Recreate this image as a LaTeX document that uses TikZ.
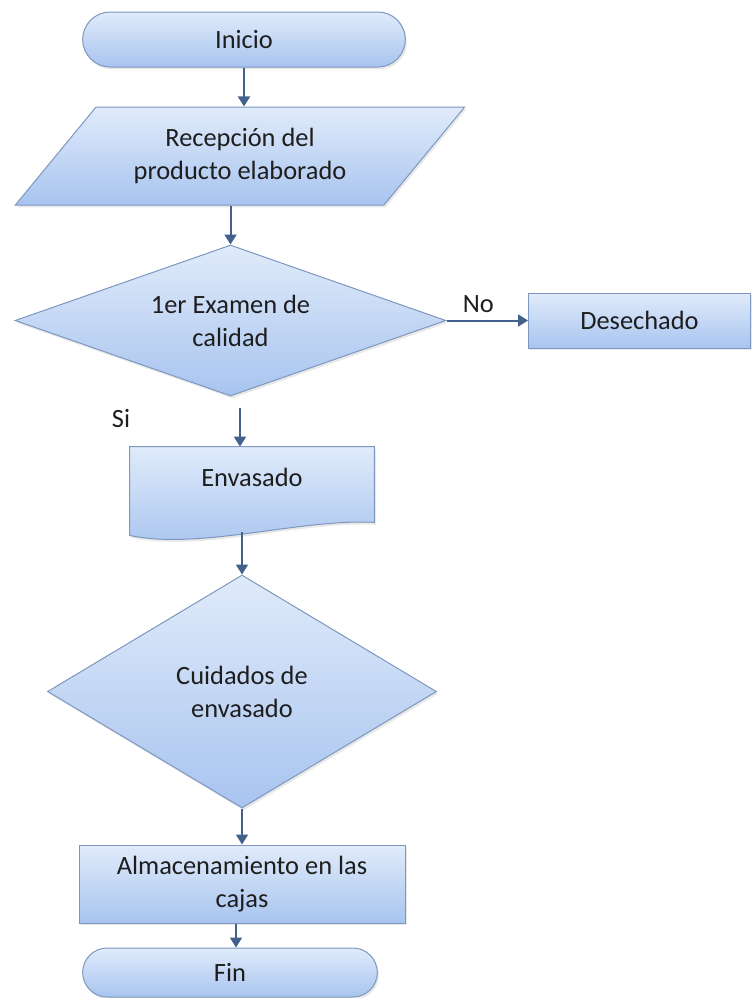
\documentclass[tikz,border=0pt]{standalone}
\usepackage{fontspec}
\setmainfont{Carlito}
\usetikzlibrary{
  calc,
  arrows.meta,
  positioning,
  shapes.geometric,
  shapes.misc,
  shadows
}
\definecolor{boxtop}{HTML}{E0EBFA}
\definecolor{boxbot}{HTML}{A8C4EF}
\definecolor{boxline}{HTML}{7D97BF}
\definecolor{arrowc}{HTML}{42628D}
\definecolor{txt}{HTML}{1E1E1E}

\begin{document}
\begin{tikzpicture}[
            node distance=80pt,
            font=\fontsize{13.2}{16.5}\selectfont,
            text=txt,
            % aspetto comune delle figure
            base/.style={draw=boxline, line width=0.5pt, top color=boxtop, bottom color=boxbot, drop shadow={opacity=0.18, shadow xshift=0.8pt, shadow yshift=-1.2pt}},
            terminal/.style={base, rounded rectangle, minimum width=168pt, minimum height=27.5pt, text centered},
            io/.style={base, trapezium, trapezium left angle=47.4, trapezium right angle=132.6, trapezium stretches=true, minimum width=225pt, minimum height=49pt, align=center},
            decision/.style={base, diamond, inner sep=2pt, align=center},
            process/.style={base, rectangle, align=center},
            docbox/.style={rectangle, minimum width=122pt, minimum height=37.5pt, text centered},
            arrow/.style={line width=1pt, draw=arrowc, -{Triangle[width=6pt,length=5pt]}}
        ]
        \useasboundingbox (0,0) rectangle (376pt,-499pt);

        % Nodi
        \node (inicio) [terminal] at (122pt,-19.75pt) {Inicio};
        \node (recep) [io, below of=inicio, xshift=-2pt, yshift=21.75pt] {Recepción del\\producto elaborado};
        \node (examen) [decision, aspect=2.85, minimum width=215.5pt, minimum height=75.5pt, below of=recep, xshift=-4.75pt, yshift=-2.25pt] {1er Examen de\\calidad};
        \node (desechado) [process, minimum width=111pt, minimum height=27.5pt, right of=examen, xshift=124.5pt] {Desechado};
        \node (si) [below of=examen, xshift=-54.75pt, yshift=31.25pt] {Si};

        % documento con bordo inferiore ondulato
        \node (envasado) [docbox, below of=examen, xshift=10.75pt, yshift=-2pt] {};
        \path [base] (envasado.north west) -- (envasado.north east) -- (envasado.south east)
            .. controls ($(envasado.south east)+(-37pt,2pt)$) and ($(envasado.south west)+(35pt,-14pt)$) .. ($(envasado.south west)+(0,-6.5pt)$) -- cycle;
        \node (envasado-t) at ([yshift=3.5pt]envasado.center) {Envasado};

        \node (cuidados) [decision, aspect=1.67, minimum width=194.5pt, minimum height=116.5pt, below of=envasado, xshift=-5pt, yshift=-23.5pt] {Cuidados de\\envasado};
        \node (almac) [process, minimum width=163pt, minimum height=39pt, below of=cuidados, yshift=-16.25pt] {Almacenamiento en las\\cajas};
        \node (fin) [terminal, minimum width=154pt, minimum height=24.5pt, below of=almac, xshift=-6pt, yshift=35.75pt] {Fin};

        % Collegamenti
        \draw [arrow] (inicio.south) -- (inicio.south |- recep.north);
        \draw [arrow] (examen.north |- recep.south) -- (examen.north);
        \draw [arrow] (examen.east) -- node[above, pos=0.39] {No} (desechado.west);
        \draw [arrow, shorten <=5.5pt] ([xshift=4.75pt]examen.south) -- ([xshift=4.75pt]examen.south |- envasado.north);
        \draw [arrow, shorten <=5pt] (cuidados.north |- envasado.south) -- (cuidados.north);
        \draw [arrow] (cuidados.south) -- (almac.north);
        \draw [arrow] ([xshift=-3pt]almac.south) -- ([xshift=-3pt]almac.south |- fin.north);

    \end{tikzpicture}
\end{document}
